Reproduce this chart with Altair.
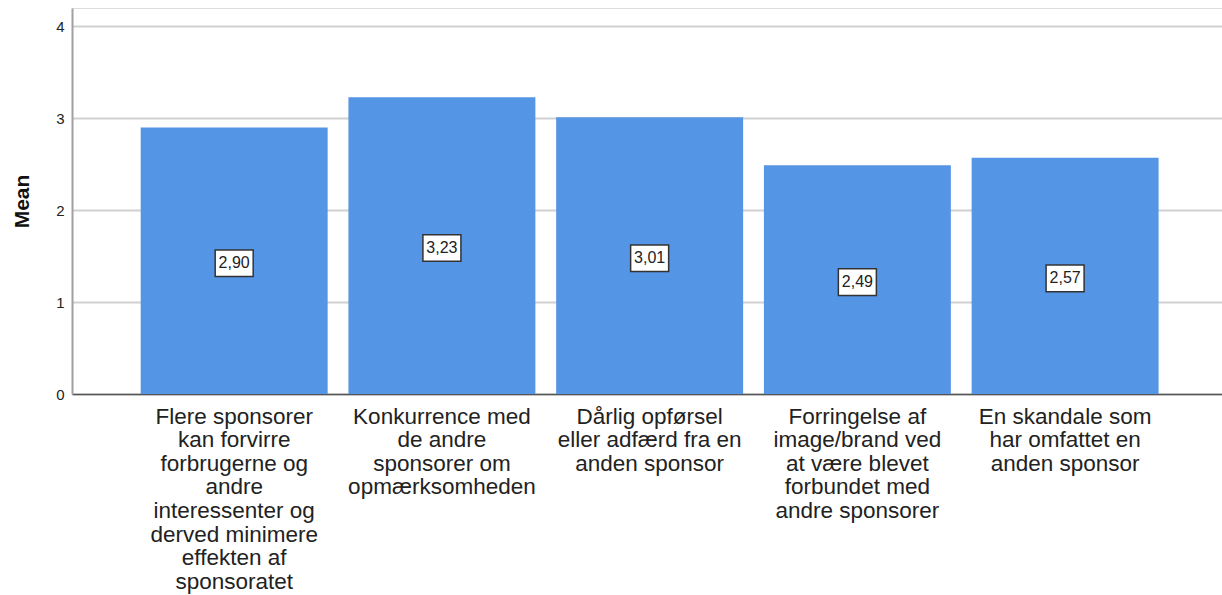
import altair as alt
import pandas as pd

categories = [
    "Flere sponsorer\nkan forvirre\nforbrugerne og\nandre\ninteressenter og\nderved minimere\neffekten af\nsponsoratet",
    "Konkurrence med\nde andre\nsponsorer om\nopmærksomheden",
    "Dårlig opførsel\neller adfærd fra en\nanden sponsor",
    "Forringelse af\nimage/brand ved\nat være blevet\nforbundet med\nandre sponsorer",
    "En skandale som\nhar omfattet en\nanden sponsor",
]
means = [2.90, 3.23, 3.01, 2.49, 2.57]
tick_values = [0, 1, 2, 3, 4]

df = pd.DataFrame({"cat": categories, "mean": means})
df["label"] = [f"{v:.2f}".replace(".", ",") for v in means]

FONT = "Liberation Sans"

x_enc = alt.X(
    "cat:N",
    sort=None,
    title=None,
    scale=alt.Scale(paddingInner=0.1, paddingOuter=0.318, align=0.52),
    axis=alt.Axis(
        labelExpr="split(datum.label, '\\n')",
        labelAngle=0,
        labelFont=FONT,
        labelFontSize=22.5,
        labelLineHeight=23.6,
        labelColor="#222222",
        labelPadding=11,
        labelBaseline="top",
        ticks=False,
        domainColor="#555555",
        domainWidth=1.5,
        labelLimit=400,
        grid=False,
    ),
)

y_scale = alt.Scale(domain=[0, 4.2], nice=False)

bars = alt.Chart(df).mark_bar(color="#5595E5").encode(
    x=x_enc,
    y=alt.Y(
        "mean:Q",
        scale=y_scale,
        title="Mean",
        axis=alt.Axis(
            values=tick_values,
            format="d",
            ticks=False,
            labelFont=FONT,
            labelFontSize=15,
            labelColor="#222222",
            labelPadding=8,
            domainColor="#a0a0a0",
            domainWidth=2,
            gridColor="#d0d0d0",
            gridWidth=2,
            titleFont=FONT,
            titleFontSize=21,
            titleFontWeight="bold",
            titleColor="#111111",
            titleX=-40,
            titleY=193,
            titleAngle=-90,
        ),
    ),
)

boxes = alt.Chart(df).transform_calculate(mid="datum.mean / 2").mark_point(
    shape="M-1,-0.7L1,-0.7L1,0.7L-1,0.7Z",
    size=1444,
    filled=False,
    fill="white",
    fillOpacity=1,
    stroke="#333333",
    strokeWidth=1.5,
    opacity=1,
    yOffset=2.5,
).encode(x=alt.X("cat:N", sort=None), y=alt.Y("mid:Q", scale=y_scale))

texts = alt.Chart(df).transform_calculate(mid="datum.mean / 2").mark_text(
    font=FONT, fontSize=16, color="#222222", baseline="middle", align="center", yOffset=2.5
).encode(x=alt.X("cat:N", sort=None), y=alt.Y("mid:Q", scale=y_scale), text="label:N")

chart = (
    alt.layer(bars, boxes, texts)
    .properties(
        width=1150,
        height=386,
        autosize=alt.AutoSizeParams(type="none"),
        padding={"left": 72, "top": 8, "right": 0, "bottom": 201},
    )
    .configure_view(stroke=None)
    .configure(background="white")
)

chart.save("out.html", embed_options={"renderer": "svg", "actions": False})
